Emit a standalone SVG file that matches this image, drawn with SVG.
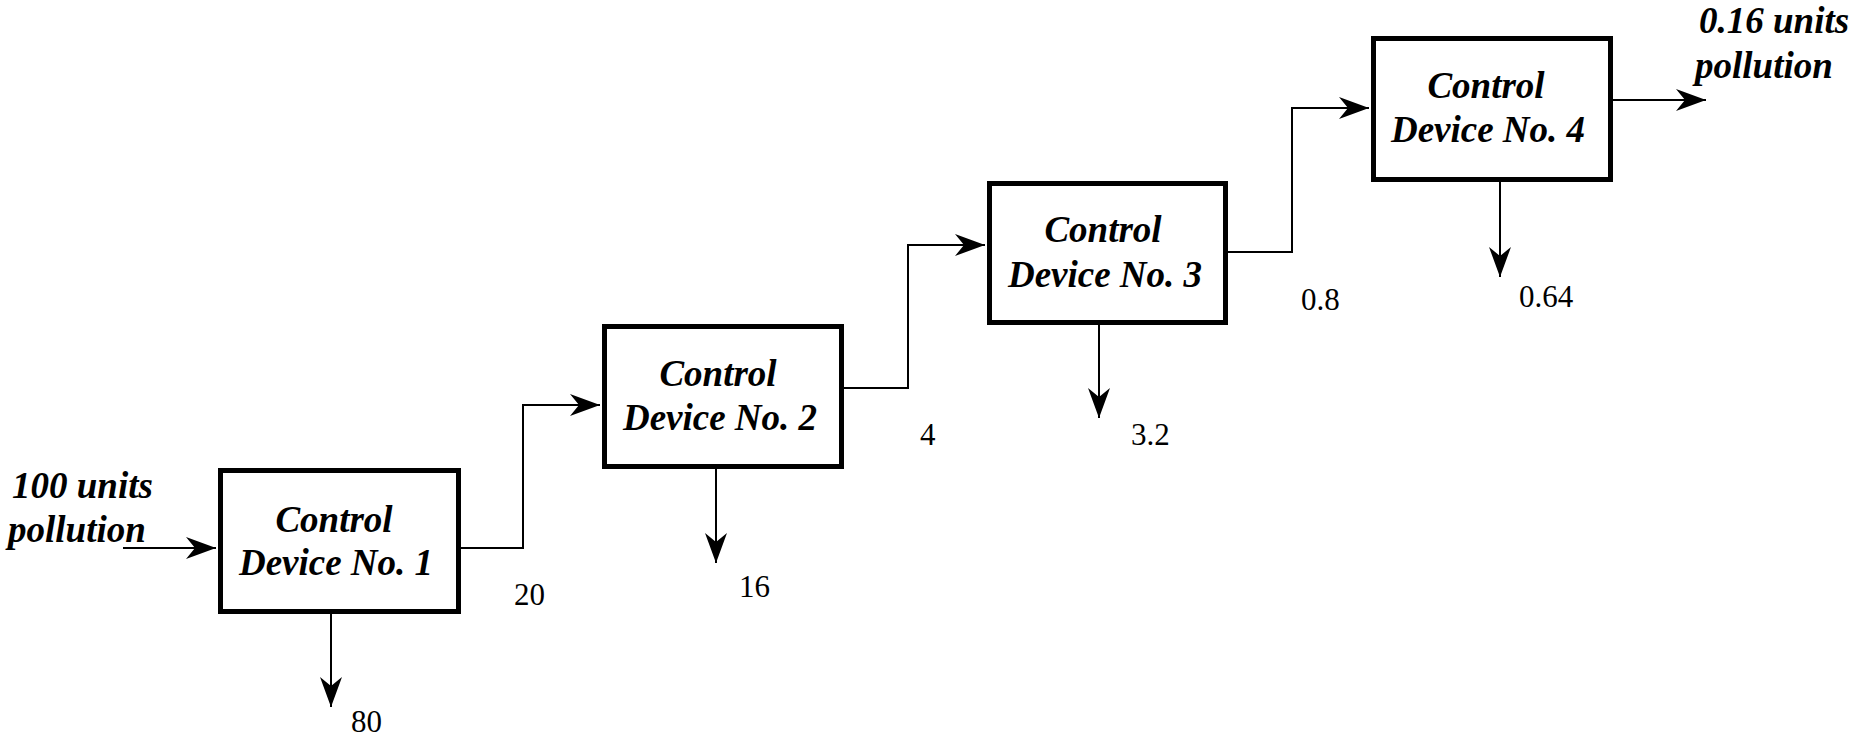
<svg xmlns="http://www.w3.org/2000/svg" width="1860" height="737" viewBox="0 0 1860 737">
<style>
.box{fill:#fff;stroke:#000;stroke-width:5}
.lbl{font-family:"Liberation Serif","Times New Roman",serif;font-weight:bold;font-style:italic;font-size:37px;fill:#000}
.num{font-family:"Liberation Serif","Times New Roman",serif;font-size:31px;fill:#000}
.con{fill:none;stroke:#000;stroke-width:2}
</style>
<defs>
<marker id="ah" markerUnits="userSpaceOnUse" markerWidth="34" markerHeight="26" viewBox="-32 -13 34 26" refX="0" refY="0" orient="auto">
<path d="M0,0 L-30,-11 L-21,0 L-30,11 Z" fill="#000"/>
</marker>
</defs>
<rect width="1860" height="737" fill="#fff"/>
<g id="connectors">
<path class="con" d="M123,548 H216" marker-end="url(#ah)"/>
<path class="con" d="M461,548 H523 V405 H600" marker-end="url(#ah)"/>
<path class="con" d="M844,388 H908 V245 H985" marker-end="url(#ah)"/>
<path class="con" d="M1228,252 H1292 V108 H1369" marker-end="url(#ah)"/>
<path class="con" d="M1613,100 H1706" marker-end="url(#ah)"/>
<path class="con" d="M331,614 V707" marker-end="url(#ah)"/>
<path class="con" d="M716,469 V563" marker-end="url(#ah)"/>
<path class="con" d="M1099,325 V418" marker-end="url(#ah)"/>
<path class="con" d="M1500,182 V277" marker-end="url(#ah)"/>
</g>
<g id="device1">
<rect class="box" x="220.5" y="470.5" width="238" height="141"/>
<text class="lbl" x="334" y="532" text-anchor="middle">Control</text>
<text class="lbl" x="336" y="575" text-anchor="middle">Device No. 1</text>
</g>
<g id="device2">
<rect class="box" x="604.5" y="326.5" width="237" height="140"/>
<text class="lbl" x="718" y="386" text-anchor="middle">Control</text>
<text class="lbl" x="720" y="430" text-anchor="middle">Device No. 2</text>
</g>
<g id="device3">
<rect class="box" x="989.5" y="183.5" width="236" height="139"/>
<text class="lbl" x="1103" y="242" text-anchor="middle">Control</text>
<text class="lbl" x="1105" y="287" text-anchor="middle">Device No. 3</text>
</g>
<g id="device4">
<rect class="box" x="1373.5" y="38.5" width="237" height="141"/>
<text class="lbl" x="1486" y="98" text-anchor="middle">Control</text>
<text class="lbl" x="1488" y="142" text-anchor="middle">Device No. 4</text>
</g>
<g id="labels">
<text class="lbl" x="12" y="498">100 units</text>
<text class="lbl" x="8" y="542">pollution</text>
<text class="lbl" x="1699" y="33">0.16 units</text>
<text class="lbl" x="1695" y="78">pollution</text>
<text class="num" x="351" y="732">80</text>
<text class="num" x="514" y="605">20</text>
<text class="num" x="739" y="597">16</text>
<text class="num" x="920" y="445">4</text>
<text class="num" x="1131" y="445">3.2</text>
<text class="num" x="1301" y="310">0.8</text>
<text class="num" x="1519" y="307">0.64</text>
</g>
</svg>
